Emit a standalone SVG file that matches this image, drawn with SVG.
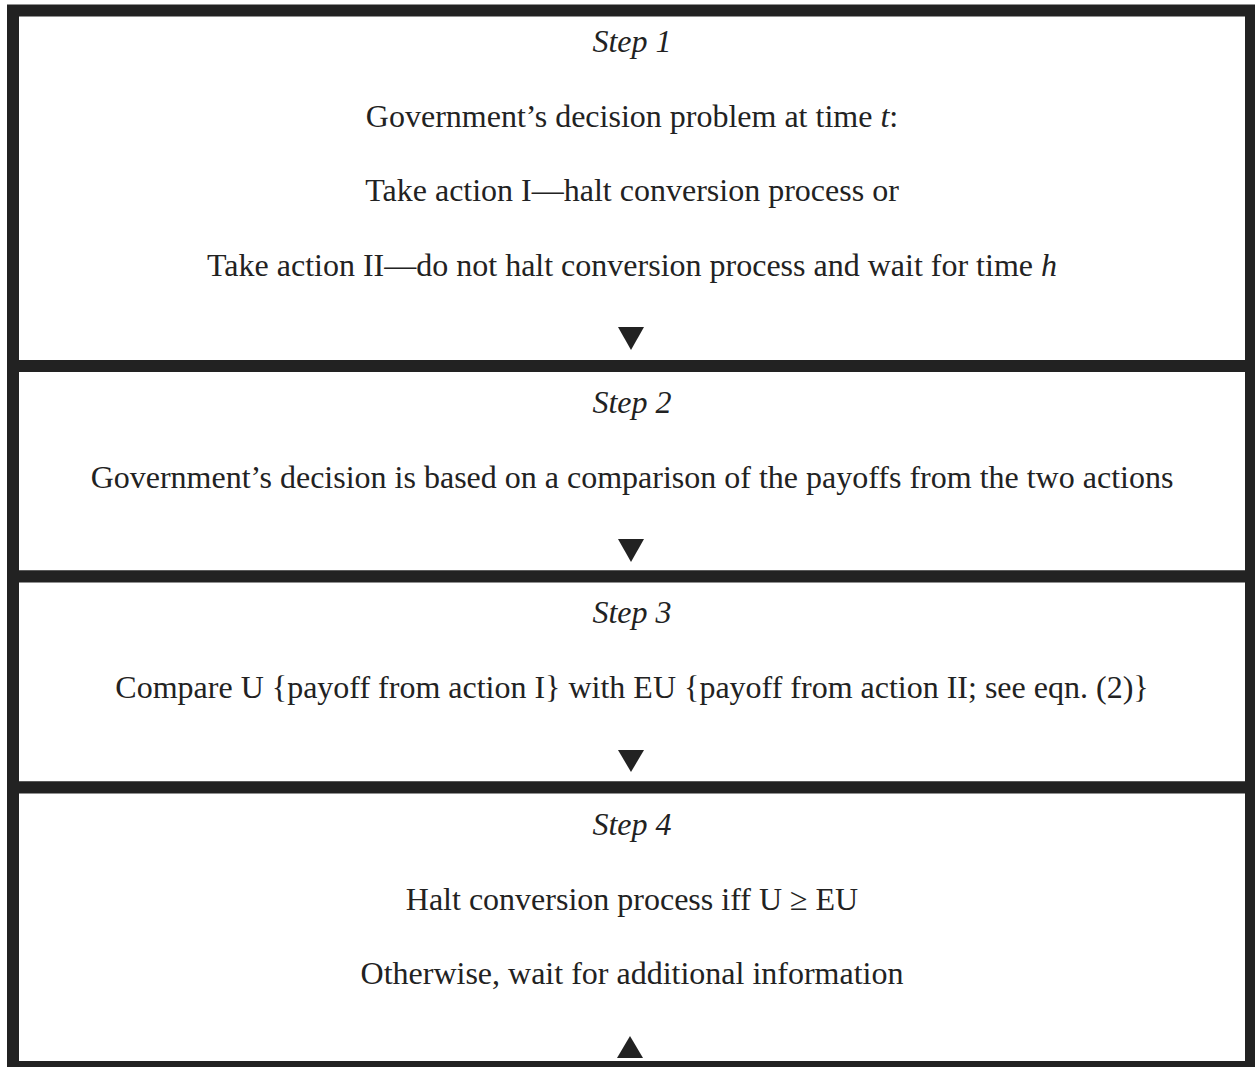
<svg xmlns="http://www.w3.org/2000/svg" width="1255" height="1067" viewBox="0 0 1255 1067">
<style>
.box{fill:#fff;stroke:#222;stroke-width:12}
.t{font-family:"Liberation Serif","Times New Roman",serif;font-size:32px;fill:#222;text-anchor:middle}
.i{font-style:italic}
.arr{fill:#222}
</style>
<rect width="1255" height="1067" fill="#fff"/>
<g id="step1">
<rect class="box" x="13" y="10.5" width="1238" height="355.5"/>
<text class="t i" x="632" y="52">Step 1</text>
<text class="t" x="632" y="127">Government’s decision problem at time <tspan class="i">t</tspan>:</text>
<text class="t" x="632" y="201">Take action I—halt conversion process or</text>
<text class="t" x="632" y="276">Take action II—do not halt conversion process and wait for time <tspan class="i">h</tspan></text>
</g>
<g id="step2">
<rect class="box" x="13" y="366" width="1238" height="210.5"/>
<text class="t i" x="632" y="413">Step 2</text>
<text class="t" x="632" y="488">Government’s decision is based on a comparison of the payoffs from the two actions</text>
</g>
<g id="step3">
<rect class="box" x="13" y="576.5" width="1238" height="211"/>
<text class="t i" x="632" y="623">Step 3</text>
<text class="t" x="632" y="698">Compare U {payoff from action I} with EU {payoff from action II; see eqn. (2)}</text>
</g>
<g id="step4">
<rect class="box" x="13" y="787.5" width="1238" height="279.5"/>
<text class="t i" x="632" y="835">Step 4</text>
<text class="t" x="632" y="910">Halt conversion process iff U ≥ EU</text>
<text class="t" x="632" y="984">Otherwise, wait for additional information</text>
</g>
<g id="connectors">
<polygon class="arr" points="618,327 644,327 631,350"/>
<polygon class="arr" points="618,539 644,539 631,562"/>
<polygon class="arr" points="618,750 644,750 631,772"/>
<polygon class="arr" points="617,1058 643,1058 630,1036"/>
</g>
</svg>
